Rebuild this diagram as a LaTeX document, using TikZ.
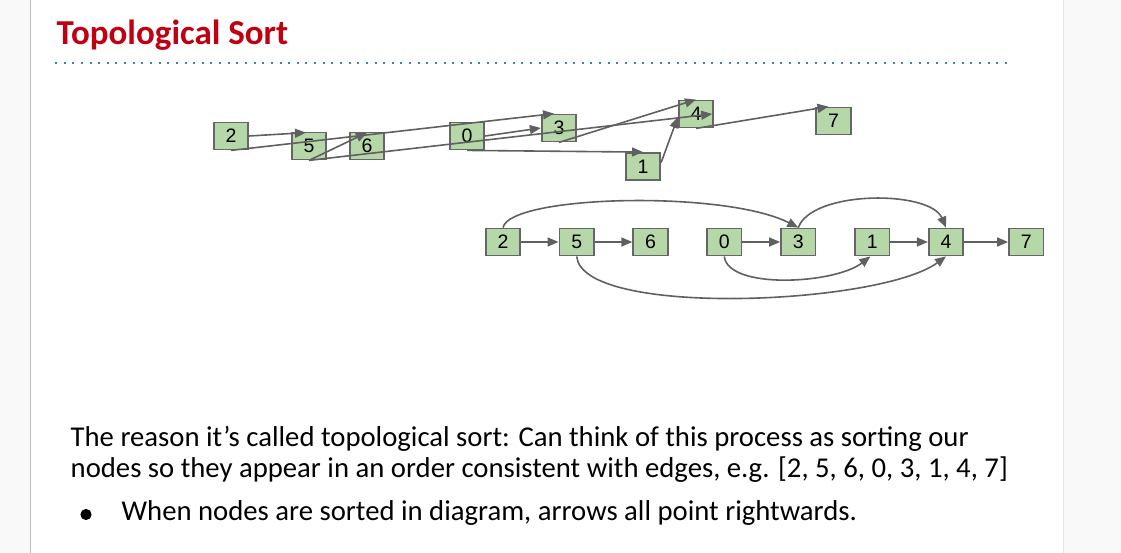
\documentclass[tikz,border=0pt]{standalone}
\usepackage{fontspec}
\setmainfont{Carlito}
\newfontfamily\arialfont{Liberation Sans}
\usetikzlibrary{arrows.meta}
\definecolor{titlered}{RGB}{192,0,16}
\definecolor{boxgreen}{HTML}{B6D7A8}
\definecolor{boxgray}{HTML}{666666}
\definecolor{edgegray}{HTML}{606060}
\definecolor{dotblue}{HTML}{3D7CC9}
\definecolor{sidegray}{HTML}{F9F9F9}
\definecolor{leftrule}{HTML}{BDBDBD}
\definecolor{rightrule}{HTML}{E6E6E6}

\begin{document}
\begin{tikzpicture}[x=1pt,y=-1pt,
  vbox/.style={draw=boxgray, line width=1.8pt, fill=boxgreen,
    minimum width=34.5pt, minimum height=27pt, inner sep=0pt,
    font=\arialfont\fontsize{19.5}{19.5}\selectfont},
  edge/.style={draw=edgegray, line width=1.6pt,
    -{Triangle[length=11pt,width=9pt]}},
  bodytext/.style={anchor=base west, inner sep=0pt,
    font=\fontsize{28.7}{31}\selectfont}
]
\useasboundingbox (0,0) rectangle (1121,553);

% page margins
\fill[sidegray] (0,0) rectangle (30,553);
\fill[sidegray] (1063,0) rectangle (1121,553);
\draw[leftrule, line width=1.2pt] (30.5,0) -- (30.5,553);
\draw[rightrule, line width=1pt] (1063,0) -- (1063,553);

% heading and dotted rule
\node[anchor=base west, inner sep=0pt, text=titlered,
  font=\bfseries\fontsize{35}{40}\selectfont] (title) at (56.5,44.8) {Topological Sort};
\draw[dotblue, line width=2pt, dash pattern=on 2pt off 6.636pt] (55,63.3) -- (1007,63.3);

% unsorted drawing of the graph
\node[vbox] (t2) at (231,136) {2};
\node[vbox] (t5) at (309,146) {5};
\node[vbox] (t6) at (367,146) {6};
\node[vbox] (t0) at (467,136) {0};
\node[vbox] (t3) at (559,128) {3};
\node[vbox] (t1) at (643,166.5) {1};
\node[vbox] (t4) at (696,114) {4};
\node[vbox] (t7) at (833.5,121) {7};

\draw[edge] (t2.east) -- ([xshift=-3pt,yshift=-1pt]t5.north);
\draw[edge] (t2.south) -- ([xshift=-5pt]t3.north);
\draw[edge] (t5.south) -- ([yshift=-1pt]t6.north);
\draw[edge] (t5.south) -- ([xshift=-2pt]t4.east);
\draw[edge] (t0.east) -- (t3.west);
\draw[edge] (t0.south) -- (t1.north);
\draw[edge] (t3.south) -- (t4.north);
\draw[edge] ([yshift=4pt]t1.east) -- ([yshift=-3pt]t4.west);
\draw[edge] (t4.south) -- ([xshift=-5pt]t7.north);

% topologically sorted drawing
\node[vbox] (b2) at (503,242) {2};
\node[vbox] (b5) at (576.7,242) {5};
\node[vbox] (b6) at (650.5,242) {6};
\node[vbox] (b0) at (724.3,242) {0};
\node[vbox] (b3) at (798.3,242) {3};
\node[vbox] (b1) at (872.3,242) {1};
\node[vbox] (b4) at (946,242) {4};
\node[vbox] (b7) at (1026.3,242) {7};

\draw[edge] (b2) -- (b5);
\draw[edge] (b5) -- (b6);
\draw[edge] (b0) -- (b3);
\draw[edge] (b1) -- (b4);
\draw[edge] (b4) -- (b7);
\draw[edge] (b2.north) .. controls (510,195) and (725,190) .. (b3.north);
\draw[edge] (b3.north) .. controls (812,190) and (930,190) .. (b4.north);
\draw[edge] (b0.south) .. controls (728,290) and (835,284) .. ([xshift=-2pt]b1.south);
\draw[edge] (b5.south) .. controls (582,318) and (880,305) .. (b4.south);

% explanation
\node[bodytext] (line1) at (70.5,446) {The reason it’s called topological sort: Can think of this process as sorting our};
\node[bodytext] (line2) at (70.5,477) {nodes so they appear in an order consistent with edges, e.g. [2, 5, 6, 0, 3, 1, 4, 7]};
\fill (86,514.5) circle (5.6);
\node[bodytext] (point) at (121.5,520) {When nodes are sorted in diagram, arrows all point rightwards.};
\end{tikzpicture}
\end{document}
